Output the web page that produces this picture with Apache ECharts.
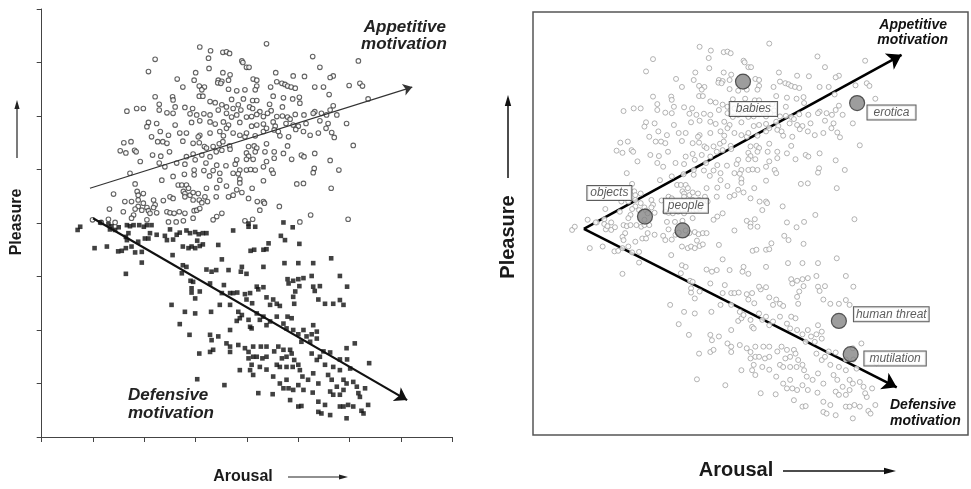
<!DOCTYPE html>
<html><head><meta charset="utf-8">
<script src="https://cdn.jsdelivr.net/npm/echarts@6/dist/echarts.min.js"></script>
<style>html,body{margin:0;padding:0;background:#fff}#c{width:971px;height:489px}</style>
</head><body><div id="c"></div>
<script>
// Arousal (x) and Pleasure (y) ratings, 1-9 scale
const appetitivePoints = [
[5.38,8.35],[4.08,8.29],[4.29,8.22],[4.53,8.19],[4.60,8.20],[4.66,8.17],[4.25,8.08],[3.21,8.06],[6.28,8.11],[7.17,8.03],
[4.90,8.03],[4.92,8.00],[4.99,7.91],[5.04,7.91],[4.26,7.89],[3.08,7.83],[6.42,7.91],[4.00,7.81],[4.53,7.81],[4.67,7.77],
[5.56,7.81],[5.90,7.75],[6.12,7.74],[6.68,7.75],[6.62,7.72],[3.64,7.69],[3.97,7.67],[4.44,7.67],[4.51,7.65],[4.64,7.67],
[5.12,7.69],[5.19,7.67],[4.43,7.62],[4.49,7.61],[5.58,7.64],[5.68,7.61],[5.74,7.59],[5.79,7.56],[5.86,7.54],[5.94,7.52],
[4.07,7.56],[3.75,7.54],[4.17,7.54],[5.19,7.56],[6.99,7.57],[7.20,7.61],[7.25,7.56],[6.32,7.54],[6.49,7.54],[4.64,7.50],
[4.80,7.47],[4.96,7.49],[5.16,7.49],[5.46,7.54],[4.12,7.49],[3.21,7.36],[3.55,7.36],[4.07,7.37],[4.14,7.37],[3.56,7.30],
[4.70,7.31],[4.93,7.32],[5.11,7.29],[5.19,7.29],[5.51,7.37],[5.71,7.34],[5.89,7.32],[6.02,7.35],[6.60,7.40],[7.36,7.32],
[2.85,7.14],[2.98,7.14],[3.29,7.22],[2.66,7.09],[3.60,7.17],[3.79,7.16],[3.94,7.14],[4.28,7.27],[4.38,7.25],[4.51,7.21],
[4.60,7.17],[4.73,7.14],[4.83,7.21],[4.88,7.11],[5.05,7.17],[5.11,7.14],[5.25,7.08],[5.44,7.22],[5.47,7.10],[5.69,7.17],
[6.03,7.24],[6.68,7.19],[6.32,7.08],[6.45,7.05],[6.62,7.11],[3.29,7.11],[3.44,7.06],[3.56,7.05],[3.89,7.04],[4.02,7.02],
[4.16,7.04],[4.28,7.02],[4.44,7.11],[4.60,7.05],[4.70,6.98],[4.80,7.02],[4.99,6.98],[5.09,6.99],[5.19,7.03],[5.32,6.99],
[5.40,7.05],[5.58,6.99],[5.69,7.00],[5.79,6.98],[5.84,6.94],[5.94,7.03],[6.11,7.02],[6.29,7.05],[6.55,7.02],[6.75,7.02],
[3.08,6.88],[3.24,6.86],[3.05,6.80],[3.60,6.83],[3.92,6.88],[4.08,6.91],[4.28,6.89],[4.38,6.85],[4.54,6.89],[4.64,6.83],
[4.60,6.77],[4.86,6.88],[5.09,6.81],[5.19,6.83],[5.32,6.85],[5.51,6.89],[5.55,6.81],[5.76,6.86],[5.90,6.83],[6.00,6.81],
[6.15,6.86],[6.42,6.91],[6.58,6.86],[6.94,6.86],[3.69,6.68],[3.82,6.68],[3.14,6.61],[3.31,6.71],[3.47,6.64],[4.08,6.64],
[4.05,6.61],[4.28,6.68],[4.47,6.71],[4.54,6.63],[4.73,6.68],[4.86,6.64],[4.96,6.61],[4.99,6.68],[5.16,6.63],[5.32,6.71],
[5.38,6.77],[5.53,6.74],[5.61,6.71],[5.64,6.63],[5.81,6.61],[5.95,6.75],[6.10,6.71],[6.23,6.64],[6.39,6.68],[6.54,6.77],
[6.65,6.69],[6.70,6.60],[2.60,6.50],[2.74,6.52],[2.53,6.35],[2.64,6.31],[2.81,6.36],[2.84,6.33],[3.26,6.52],[3.36,6.52],
[3.44,6.49],[3.75,6.53],[3.95,6.49],[4.07,6.50],[4.17,6.43],[4.21,6.40],[4.34,6.43],[4.46,6.48],[4.53,6.52],[4.66,6.44],
[5.03,6.43],[5.14,6.44],[5.19,6.40],[5.38,6.48],[5.79,6.44],[6.06,6.27],[6.11,6.24],[6.32,6.30],[7.07,6.45],[3.16,6.27],
[3.32,6.25],[3.49,6.33],[3.82,6.24],[3.95,6.29],[4.12,6.27],[4.28,6.24],[4.40,6.33],[4.51,6.36],[4.67,6.38],[4.99,6.31],
[5.03,6.25],[5.16,6.33],[5.35,6.33],[5.53,6.33],[5.53,6.21],[5.71,6.30],[5.87,6.19],[6.62,6.17],[2.72,5.93],[2.92,6.15],
[3.29,6.12],[3.40,6.05],[3.63,6.12],[3.79,6.10],[3.99,6.18],[4.20,6.12],[4.41,6.08],[4.59,6.07],[4.77,6.10],[4.80,6.18],
[4.99,6.19],[5.12,6.19],[5.38,6.15],[5.32,6.05],[5.48,5.99],[5.51,5.93],[4.86,5.99],[4.99,5.99],[5.07,6.00],[5.16,5.99],
[3.97,5.99],[4.16,5.98],[4.34,5.98],[4.47,5.93],[4.73,5.93],[4.83,5.92],[6.31,6.02],[6.29,5.94],[6.79,5.99],[2.82,5.73],
[3.34,5.80],[3.56,5.87],[3.78,5.91],[3.97,5.90],[4.27,5.88],[4.47,5.80],[4.86,5.82],[5.32,5.79],[5.97,5.73],[6.10,5.74],
[6.64,5.65],[2.40,5.54],[2.86,5.59],[2.88,5.52],[2.98,5.55],[3.66,5.71],[3.73,5.71],[3.82,5.71],[3.86,5.65],[3.76,5.59],
[3.79,5.55],[3.89,5.52],[3.95,5.57],[4.05,5.55],[4.21,5.65],[4.41,5.66],[4.60,5.69],[4.86,5.75],[4.80,5.62],[4.90,5.57],
[5.10,5.65],[2.62,5.40],[2.75,5.40],[2.88,5.43],[2.98,5.37],[2.88,5.31],[2.82,5.26],[3.05,5.29],[3.18,5.43],[3.21,5.34],
[3.37,5.42],[3.50,5.49],[3.56,5.46],[3.79,5.49],[3.95,5.43],[4.07,5.43],[4.12,5.38],[4.18,5.49],[4.23,5.40],[4.40,5.49],
[4.64,5.49],[4.73,5.52],[5.03,5.46],[5.20,5.40],[5.32,5.40],[5.34,5.37],[5.63,5.31],[2.32,5.26],[2.59,5.21],[2.79,5.15],
[2.95,5.24],[3.08,5.23],[3.11,5.18],[3.18,5.29],[3.24,5.19],[3.44,5.21],[3.50,5.19],[3.58,5.18],[3.68,5.21],[3.79,5.18],
[3.97,5.23],[4.02,5.24],[4.08,5.27],[4.41,5.12],[4.51,5.18],[5.25,5.24],[6.24,5.15],[6.97,5.07],[2.30,5.07],[2.75,5.09],
[3.05,5.06],[3.47,5.02],[3.62,5.02],[3.76,5.04],[3.95,5.09],[4.34,5.06],[4.96,5.04],[5.11,5.07],[6.03,5.02],[1.99,5.06],
[2.43,5.01],[2.16,5.01]
];
const defensivePoints = [
[1.70,4.87],[1.75,4.93],[2.03,4.53],[2.27,4.56],[2.14,5.01],[2.30,4.98],[2.33,4.88],[2.43,4.87],[2.36,4.94],[2.50,4.92],
[2.66,4.96],[2.72,4.94],[2.79,4.96],[2.90,4.96],[2.99,4.93],[3.05,4.96],[3.14,4.96],[3.11,4.81],[3.24,4.78],[3.40,4.76],
[3.50,4.88],[3.44,4.68],[2.69,4.81],[2.64,4.74],[2.66,4.68],[2.49,4.47],[2.56,4.48],[2.64,4.53],[2.75,4.56],[2.82,4.45],
[2.95,4.46],[2.88,4.65],[3.01,4.71],[3.08,4.71],[2.95,4.26],[2.64,4.05],[3.55,4.40],[3.56,4.69],[3.63,4.78],[3.69,4.82],
[3.82,4.86],[3.89,4.81],[3.99,4.83],[4.06,4.79],[4.14,4.81],[4.21,4.81],[3.75,4.56],[3.86,4.53],[3.92,4.56],[3.99,4.53],
[4.08,4.57],[4.03,4.67],[4.14,4.60],[4.44,4.59],[4.73,4.86],[5.03,4.99],[5.03,4.93],[5.16,4.93],[5.71,5.01],[5.89,4.92],
[5.66,4.76],[5.74,4.68],[6.02,4.61],[5.07,4.48],[5.14,4.50],[5.32,4.50],[5.38,4.51],[5.42,4.62],[4.51,4.32],[3.75,4.21],
[3.82,4.18],[3.73,4.06],[4.21,4.13],[4.31,4.09],[4.40,4.12],[4.64,4.12],[4.90,4.18],[4.88,4.09],[4.99,4.05],[5.32,4.18],
[5.73,4.25],[6.00,4.25],[6.29,4.25],[6.64,4.34],[3.90,3.92],[3.95,3.90],[3.92,3.78],[3.92,3.70],[3.99,3.59],[4.08,3.72],
[4.28,3.87],[4.55,3.84],[4.51,3.69],[4.67,3.69],[4.73,3.69],[4.81,3.70],[4.96,3.67],[5.06,3.69],[5.22,3.76],[5.19,3.81],
[5.32,3.80],[5.38,3.61],[4.99,3.57],[5.10,3.50],[5.79,3.95],[5.81,3.87],[5.90,3.92],[6.00,3.95],[6.10,3.97],[6.26,4.01],
[6.02,3.82],[5.94,3.72],[5.90,3.62],[5.92,3.49],[6.29,3.81],[6.32,3.73],[6.42,3.82],[6.81,4.01],[6.95,3.81],[6.39,3.57],
[6.52,3.49],[6.68,3.49],[6.81,3.56],[6.88,3.47],[5.51,3.57],[5.58,3.49],[5.45,3.47],[5.64,3.45],[3.53,3.47],[4.47,3.47],
[4.67,3.47],[4.83,3.34],[4.80,3.17],[4.86,3.22],[4.90,3.28],[5.03,3.19],[5.06,3.06],[5.09,3.03],[5.19,3.31],[5.25,3.19],
[5.32,3.25],[5.38,3.09],[5.45,3.16],[5.58,3.25],[5.71,3.12],[5.79,3.25],[5.87,3.22],[5.77,3.03],[5.90,3.00],[6.00,2.92],
[6.10,3.00],[6.16,2.88],[6.26,2.92],[6.29,3.09],[6.06,2.78],[6.23,2.78],[6.36,2.84],[6.36,2.97],[3.79,3.34],[3.99,3.31],
[4.30,3.34],[3.69,3.11],[3.88,2.91],[4.28,2.91],[4.44,2.88],[4.67,3.00],[4.31,2.81],[4.28,2.59],[4.34,2.63],[4.07,2.56],
[4.60,2.75],[4.67,2.69],[4.67,2.59],[4.83,2.72],[4.96,2.66],[5.03,2.59],[5.12,2.69],[5.27,2.69],[5.38,2.69],[5.12,2.50],
[5.03,2.47],[5.19,2.50],[5.30,2.47],[5.38,2.50],[5.53,2.60],[5.61,2.69],[5.71,2.63],[5.68,2.47],[5.84,2.63],[5.77,2.50],
[5.87,2.56],[5.92,2.44],[5.58,2.35],[5.64,2.31],[5.77,2.31],[5.89,2.31],[6.00,2.35],[6.03,2.25],[6.08,2.13],[6.26,2.56],
[6.36,2.44],[6.42,2.50],[6.49,2.60],[6.62,2.58],[6.94,2.66],[7.10,2.75],[6.95,2.45],[7.01,2.28],[6.81,2.45],[6.52,2.35],
[6.68,2.31],[6.81,2.25],[6.58,2.16],[6.65,2.07],[6.75,1.94],[6.88,2.07],[6.94,2.00],[6.29,2.19],[6.39,2.00],[6.19,2.07],
[5.25,2.31],[5.38,2.26],[5.09,2.35],[5.06,2.25],[5.12,2.16],[4.86,2.25],[5.51,2.13],[5.64,2.00],[5.71,1.91],[5.81,1.91],
[5.90,1.88],[5.77,2.07],[6.00,1.97],[6.10,1.88],[5.22,1.82],[5.50,1.80],[5.84,1.69],[6.00,1.57],[6.06,1.58],[6.39,1.66],
[6.52,1.60],[6.39,1.47],[6.45,1.44],[6.62,1.41],[6.81,1.57],[6.88,1.57],[6.94,1.35],[6.97,1.60],[7.07,1.57],[7.23,1.49],
[7.27,1.44],[7.20,1.75],[7.17,1.82],[7.30,1.91],[7.36,1.60],[7.38,2.38],[6.88,1.88],[6.81,1.79],[7.07,2.03],[7.14,1.94],
[6.28,1.83],[6.62,1.85],[6.68,1.79],[4.03,2.08],[4.56,1.97]
];
const appetitiveTrend = [[1.94,5.65],[8.22,7.54]];
const defensiveTrend = [[2.00,5.09],[8.12,1.69]];
const vertexAppetitive = [[1.92,4.89],[7.85,8.14]];
const vertexDefensive = [[1.92,4.89],[7.76,1.93]];
const categoryNames = ['babies','erotica','objects','people','human threat','mutilation'];
const categoryArousal = [4.89,7.02,3.06,3.76,6.68,6.90];
const categoryPleasure = [7.64,7.24,5.12,4.86,3.17,2.55];

const chart = echarts.init(document.getElementById('c'), null, {renderer:'canvas'});
const FONT = '"Liberation Sans", Arial, Helvetica, sans-serif';
// label centre offset from the marker centre (pixels)
const labelOffsets = {'babies':[11,28],'erotica':[35,10],'objects':[-35,-23],'people':[4,-24],'human threat':[53,-6],'mutilation':[45,5]};
const labelPad = {'babies':[1,6],'erotica':[1,6],'objects':[1,3],'people':[1,4],'human threat':[1,2],'mutilation':[1,5]};
const BIG = 15;

function arrow(x1,y1,x2,y2,w,hl,hw,color){
  const dx=x2-x1, dy=y2-y1, L=Math.hypot(dx,dy), ux=dx/L, uy=dy/L;
  const bx=x2-ux*hl, by=y2-uy*hl;
  return [
    {type:'line', shape:{x1:x1,y1:y1,x2:bx+ux*1,y2:by+uy*1}, style:{stroke:color,lineWidth:w}},
    {type:'polygon', shape:{points:[[x2,y2],[bx-uy*hw,by+ux*hw],[bx+uy*hw,by-ux*hw]]}, style:{fill:color}}
  ];
}
function txt(x,y,text,size,opts){
  return {type:'text', x:x, y:y, style:Object.assign({text:text, font:'bold '+size+'px '+FONT, fill:'#1a1a1a', align:'center', verticalAlign:'middle'}, opts||{})};
}

const graphics = [].concat(
  [Object.assign(txt(17,222,'Pleasure',16),{rotation:Math.PI/2})],
  arrow(17,158,17,100,1.2,9,2.6,'#222'),
  [txt(243,477,'Arousal',16)],
  arrow(288,477,348,477,1.2,9,2.6,'#222'),
  [Object.assign(txt(508,237,'Pleasure',20),{rotation:Math.PI/2})],
  arrow(508,178,508,95,1.5,11,3.2,'#111'),
  [txt(736,470,'Arousal',20)],
  arrow(783,471,896,471,1.5,12,3.2,'#111'),
  [
    {type:'text', x:446, y:27, style:{text:'Appetitive', font:'italic bold 17px '+FONT, fill:'#222', align:'right', verticalAlign:'middle'}},
    {type:'text', x:447, y:44, style:{text:'motivation', font:'italic bold 17px '+FONT, fill:'#222', align:'right', verticalAlign:'middle'}},
    {type:'text', x:128, y:395, style:{text:'Defensive', font:'italic bold 17px '+FONT, fill:'#222', align:'left', verticalAlign:'middle'}},
    {type:'text', x:128, y:413, style:{text:'motivation', font:'italic bold 17px '+FONT, fill:'#222', align:'left', verticalAlign:'middle'}},
    {type:'text', x:947, y:25, style:{text:'Appetitive', font:'italic bold 14px '+FONT, fill:'#111', align:'right', verticalAlign:'middle'}},
    {type:'text', x:948, y:40, style:{text:'motivation', font:'italic bold 14px '+FONT, fill:'#111', align:'right', verticalAlign:'middle'}},
    {type:'text', x:890, y:405, style:{text:'Defensive', font:'italic bold 14px '+FONT, fill:'#111', align:'left', verticalAlign:'middle'}},
    {type:'text', x:890, y:421, style:{text:'motivation', font:'italic bold 14px '+FONT, fill:'#111', align:'left', verticalAlign:'middle'}}
  ]
);

const option = {
  animation:false,
  backgroundColor:'#fff',
  grid:[
    {left:41.7, top:9, width:410.6, height:428},
    {left:533, top:12, width:435, height:423, show:true, borderColor:'#555', borderWidth:1.5, backgroundColor:'transparent'}
  ],
  xAxis:[
    {gridIndex:0, type:'value', min:1, max:9, interval:1,
     axisLine:{show:true,onZero:false,lineStyle:{color:'#444',width:1}},
     axisTick:{show:true,length:5,lineStyle:{color:'#444'}},
     axisLabel:{show:false}, splitLine:{show:false}},
    {gridIndex:1, type:'value', min:0.97, max:9.09, show:false, splitLine:{show:false}}
  ],
  yAxis:[
    {gridIndex:0, type:'value', min:1, max:9, interval:1,
     axisLine:{show:true,onZero:false,lineStyle:{color:'#444',width:1}},
     axisTick:{show:true,length:5,lineStyle:{color:'#444'}},
     axisLabel:{show:false}, splitLine:{show:false}},
    {gridIndex:1, type:'value', min:1.04, max:8.94, show:false, splitLine:{show:false}}
  ],
  series:[
    {type:'scatter', xAxisIndex:0, yAxisIndex:0, data:appetitivePoints, symbol:'circle', symbolSize:4.6,
     itemStyle:{color:'#fff', borderColor:'#3c3c3c', borderWidth:1.1}, z:2, silent:true},
    {type:'scatter', xAxisIndex:0, yAxisIndex:0, data:defensivePoints, symbol:'rect', symbolSize:4.6,
     itemStyle:{color:'#111'}, z:2, silent:true},
    {type:'lines', coordinateSystem:'cartesian2d', xAxisIndex:0, yAxisIndex:0, z:4, silent:true,
     symbol:['none','arrow'], symbolSize:9,
     lineStyle:{color:'#333', width:1.2, opacity:1},
     data:[{coords:appetitiveTrend}]},
    {type:'lines', coordinateSystem:'cartesian2d', xAxisIndex:0, yAxisIndex:0, z:4, silent:true,
     symbol:['none','arrow'], symbolSize:12,
     lineStyle:{color:'#111', width:2.2, opacity:1},
     data:[{coords:defensiveTrend}]},
    {type:'lines', coordinateSystem:'cartesian2d', xAxisIndex:1, yAxisIndex:1, z:1, silent:true,
     symbol:['none','arrow'], symbolSize:14,
     lineStyle:{color:'#000', width:2.6, opacity:1},
     data:[{coords:vertexAppetitive},{coords:vertexDefensive}]},
    {type:'scatter', xAxisIndex:1, yAxisIndex:1, data:appetitivePoints, symbol:'circle', symbolSize:5,
     itemStyle:{color:'#fff', borderColor:'#a0a0a0', borderWidth:1}, z:2, silent:true},
    {type:'scatter', xAxisIndex:1, yAxisIndex:1, data:defensivePoints, symbol:'circle', symbolSize:5,
     itemStyle:{color:'#fff', borderColor:'#a0a0a0', borderWidth:1}, z:2, silent:true},
    {type:'scatter', xAxisIndex:1, yAxisIndex:1, symbol:'circle', symbolSize:BIG, z:3, silent:true,
     itemStyle:{color:'#858585', borderColor:'#333', borderWidth:1.2},
     label:{show:true, formatter:'{b}', fontStyle:'italic', fontSize:12, fontFamily:FONT,
            color:'#333', backgroundColor:'#fff', borderColor:'#333', borderWidth:1, lineHeight:12,
            align:'center', verticalAlign:'middle'},
     labelLayout:{hideOverlap:false},
     data:categoryNames.map((n,i)=>({name:n, value:[categoryArousal[i],categoryPleasure[i]],
        label:{show:true, position:[BIG/2+labelOffsets[n][0], BIG/2+labelOffsets[n][1]], padding:labelPad[n],
               align:'center', verticalAlign:'middle'}}))}
  ],
  graphic:graphics
};
chart.setOption(option);
</script>
</body></html>
